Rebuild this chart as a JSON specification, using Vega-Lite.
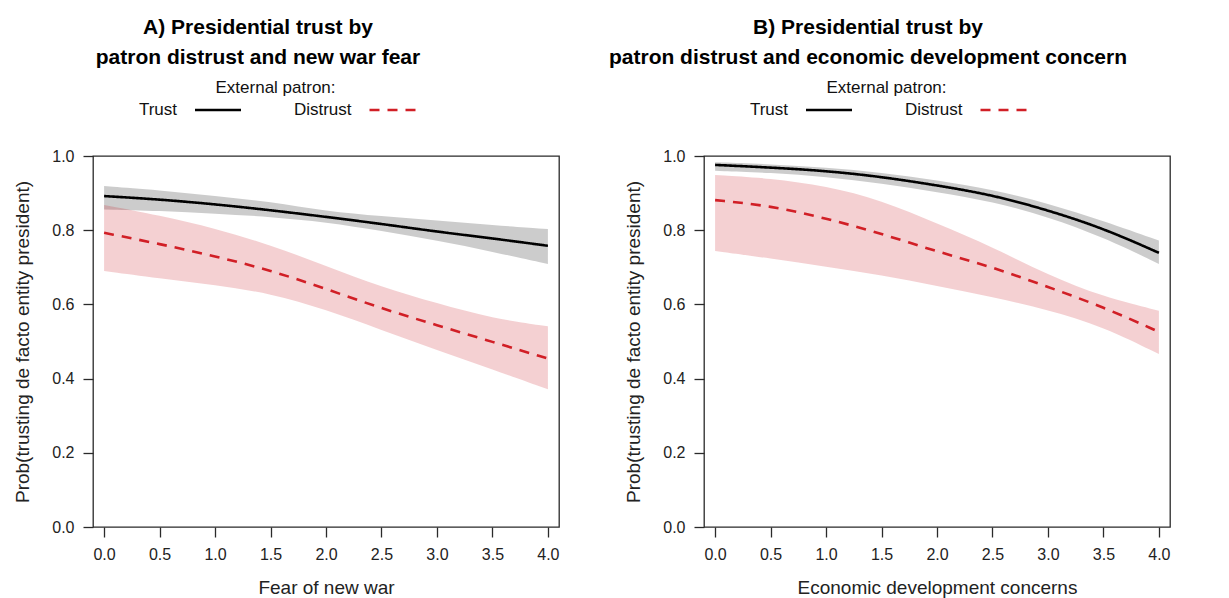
{
  "$schema": "https://vega.github.io/schema/vega-lite/v6.json",
  "autosize": {"type": "pad"},
  "padding": {"left": 13, "top": 16, "right": 5, "bottom": 1},
  "background": "white",
  "bounds": "flush",
  "spacing": 145,
  "datasets": {
    "A": [
      {"patron": "Trust", "x": 0.0, "est": 0.892, "lo": 0.856, "hi": 0.919},
      {"patron": "Trust", "x": 0.5, "est": 0.883, "lo": 0.852, "hi": 0.908},
      {"patron": "Trust", "x": 1.0, "est": 0.870, "lo": 0.845, "hi": 0.892},
      {"patron": "Trust", "x": 1.5, "est": 0.854, "lo": 0.836, "hi": 0.877},
      {"patron": "Trust", "x": 2.0, "est": 0.836, "lo": 0.822, "hi": 0.851},
      {"patron": "Trust", "x": 2.5, "est": 0.817, "lo": 0.798, "hi": 0.838},
      {"patron": "Trust", "x": 3.0, "est": 0.796, "lo": 0.772, "hi": 0.826},
      {"patron": "Trust", "x": 3.5, "est": 0.778, "lo": 0.742, "hi": 0.814},
      {"patron": "Trust", "x": 4.0, "est": 0.758, "lo": 0.709, "hi": 0.803},
      {"patron": "Distrust", "x": 0.0, "est": 0.793, "lo": 0.690, "hi": 0.868},
      {"patron": "Distrust", "x": 0.5, "est": 0.763, "lo": 0.670, "hi": 0.840},
      {"patron": "Distrust", "x": 1.0, "est": 0.730, "lo": 0.652, "hi": 0.805},
      {"patron": "Distrust", "x": 1.5, "est": 0.692, "lo": 0.630, "hi": 0.760},
      {"patron": "Distrust", "x": 2.0, "est": 0.642, "lo": 0.586, "hi": 0.704},
      {"patron": "Distrust", "x": 2.5, "est": 0.589, "lo": 0.531, "hi": 0.647},
      {"patron": "Distrust", "x": 3.0, "est": 0.544, "lo": 0.477, "hi": 0.603},
      {"patron": "Distrust", "x": 3.5, "est": 0.499, "lo": 0.425, "hi": 0.562},
      {"patron": "Distrust", "x": 4.0, "est": 0.454, "lo": 0.371, "hi": 0.541}
    ],
    "B": [
      {"patron": "Trust", "x": 0.0, "est": 0.976, "lo": 0.960, "hi": 0.983},
      {"patron": "Trust", "x": 0.5, "est": 0.969, "lo": 0.955, "hi": 0.978},
      {"patron": "Trust", "x": 1.0, "est": 0.960, "lo": 0.944, "hi": 0.969},
      {"patron": "Trust", "x": 1.5, "est": 0.944, "lo": 0.926, "hi": 0.955},
      {"patron": "Trust", "x": 2.0, "est": 0.921, "lo": 0.903, "hi": 0.935},
      {"patron": "Trust", "x": 2.5, "est": 0.895, "lo": 0.877, "hi": 0.910},
      {"patron": "Trust", "x": 3.0, "est": 0.854, "lo": 0.836, "hi": 0.872},
      {"patron": "Trust", "x": 3.5, "est": 0.805, "lo": 0.781, "hi": 0.825},
      {"patron": "Trust", "x": 4.0, "est": 0.739, "lo": 0.709, "hi": 0.772},
      {"patron": "Distrust", "x": 0.0, "est": 0.881, "lo": 0.744, "hi": 0.949},
      {"patron": "Distrust", "x": 0.5, "est": 0.866, "lo": 0.724, "hi": 0.940},
      {"patron": "Distrust", "x": 1.0, "est": 0.832, "lo": 0.701, "hi": 0.919},
      {"patron": "Distrust", "x": 1.5, "est": 0.791, "lo": 0.679, "hi": 0.881},
      {"patron": "Distrust", "x": 2.0, "est": 0.742, "lo": 0.650, "hi": 0.818},
      {"patron": "Distrust", "x": 2.5, "est": 0.701, "lo": 0.620, "hi": 0.755},
      {"patron": "Distrust", "x": 3.0, "est": 0.647, "lo": 0.585, "hi": 0.679},
      {"patron": "Distrust", "x": 3.5, "est": 0.593, "lo": 0.540, "hi": 0.620},
      {"patron": "Distrust", "x": 4.0, "est": 0.526, "lo": 0.466, "hi": 0.583}
    ]
  },
  "config": {
    "font": "Liberation Sans",
    "view": {"stroke": "#2a2a2a", "strokeWidth": 1.3},
    "axis": {
      "domain": false,
      "grid": false,
      "ticks": true,
      "tickSize": 10,
      "tickColor": "#2a2a2a",
      "tickWidth": 1.3,
      "labelFontSize": 16,
      "labelColor": "#222222",
      "labelPadding": 9,
      "titleFontSize": 19,
      "titleFontWeight": "normal",
      "titleColor": "#222222"
    },
    "axisX": {"titlePadding": 16},
    "axisY": {"titlePadding": 19},
    "title": {"fontSize": 21, "fontWeight": "bold", "color": "#000000", "lineHeight": 30, "anchor": "middle", "offset": 12},
    "legend": {
      "titleFontSize": 17,
      "titleFontWeight": "normal",
      "titleColor": "#111111",
      "titleAnchor": "middle",
      "titlePadding": 3,
      "labelFontSize": 17,
      "labelColor": "#111111",
      "labelAlign": "right",
      "labelOffset": -51,
      "symbolType": "M-2.706,0H2.706",
      "symbolSize": 289,
      "symbolStrokeWidth": 2.5,
      "columnPadding": 46.5
    }
  },
  "resolve": {
    "scale": {"color": "independent", "strokeDash": "independent", "fill": "independent"},
    "legend": {"color": "independent", "strokeDash": "independent"}
  },
  "hconcat": [
    {
      "width": 466,
      "height": 371,
      "title": {"text": ["A) Presidential trust by", "patron distrust and new war fear"], "dx": -68},
      "data": {"name": "A"},
      "encoding": {
        "x": {"field": "x", "type": "quantitative", "scale": {"domain": [-0.1, 4.1], "nice": false, "zero": false},
              "axis": {"values": [0, 0.5, 1, 1.5, 2, 2.5, 3, 3.5, 4], "format": ".1f", "title": "Fear of new war"}}
      },
      "layer": [
        {
          "mark": {"type": "area", "interpolate": "basis", "opacity": 0.2},
          "encoding": {
            "y": {"field": "lo", "type": "quantitative", "scale": {"domain": [0, 1], "nice": false},
                  "axis": {"values": [0, 0.2, 0.4, 0.6, 0.8, 1.0], "format": ".1f", "title": "Prob(trusting de facto entity president)"}},
            "y2": {"field": "hi"},
            "fill": {"field": "patron", "type": "nominal", "scale": {"domain": ["Distrust", "Trust"], "range": ["#c8141e", "#000000"]}, "legend": null}
          }
        },
        {
          "mark": {"type": "line", "interpolate": "basis", "strokeWidth": 2.6},
          "encoding": {
            "y": {"field": "est", "type": "quantitative"},
            "color": {"field": "patron", "type": "nominal", "scale": {"domain": ["Trust", "Distrust"], "range": ["#000000", "#d11f26"]},
                      "legend": {"title": "External patron:", "orient": "none", "legendX": 115, "legendY": -76, "direction": "horizontal",
                                 "encode": {"title": {"update": {"dx": {"value": -38.5}}}}}},
            "strokeDash": {"field": "patron", "type": "nominal", "scale": {"domain": ["Trust", "Distrust"], "range": [[1, 0], [10, 8]]},
                      "legend": {"title": "External patron:", "orient": "none", "legendX": 115, "legendY": -76, "direction": "horizontal",
                                 "encode": {"title": {"update": {"dx": {"value": -38.5}}}}}}
          }
        }
      ]
    },
    {
      "width": 466,
      "height": 371,
      "title": {"text": ["B) Presidential trust by", "patron distrust and economic development concern"], "dx": -69},
      "data": {"name": "B"},
      "encoding": {
        "x": {"field": "x", "type": "quantitative", "scale": {"domain": [-0.1, 4.1], "nice": false, "zero": false},
              "axis": {"values": [0, 0.5, 1, 1.5, 2, 2.5, 3, 3.5, 4], "format": ".1f", "title": "Economic development concerns"}}
      },
      "layer": [
        {
          "mark": {"type": "area", "interpolate": "basis", "opacity": 0.2},
          "encoding": {
            "y": {"field": "lo", "type": "quantitative", "scale": {"domain": [0, 1], "nice": false},
                  "axis": {"values": [0, 0.2, 0.4, 0.6, 0.8, 1.0], "format": ".1f", "title": "Prob(trusting de facto entity president)"}},
            "y2": {"field": "hi"},
            "fill": {"field": "patron", "type": "nominal", "scale": {"domain": ["Distrust", "Trust"], "range": ["#c8141e", "#000000"]}, "legend": null}
          }
        },
        {
          "mark": {"type": "line", "interpolate": "basis", "strokeWidth": 2.6},
          "encoding": {
            "y": {"field": "est", "type": "quantitative"},
            "color": {"field": "patron", "type": "nominal", "scale": {"domain": ["Trust", "Distrust"], "range": ["#000000", "#d11f26"]},
                      "legend": {"title": "External patron:", "orient": "none", "legendX": 115, "legendY": -76, "direction": "horizontal",
                                 "encode": {"title": {"update": {"dx": {"value": -38.5}}}}}},
            "strokeDash": {"field": "patron", "type": "nominal", "scale": {"domain": ["Trust", "Distrust"], "range": [[1, 0], [10, 8]]},
                      "legend": {"title": "External patron:", "orient": "none", "legendX": 115, "legendY": -76, "direction": "horizontal",
                                 "encode": {"title": {"update": {"dx": {"value": -38.5}}}}}}
          }
        }
      ]
    }
  ]
}
